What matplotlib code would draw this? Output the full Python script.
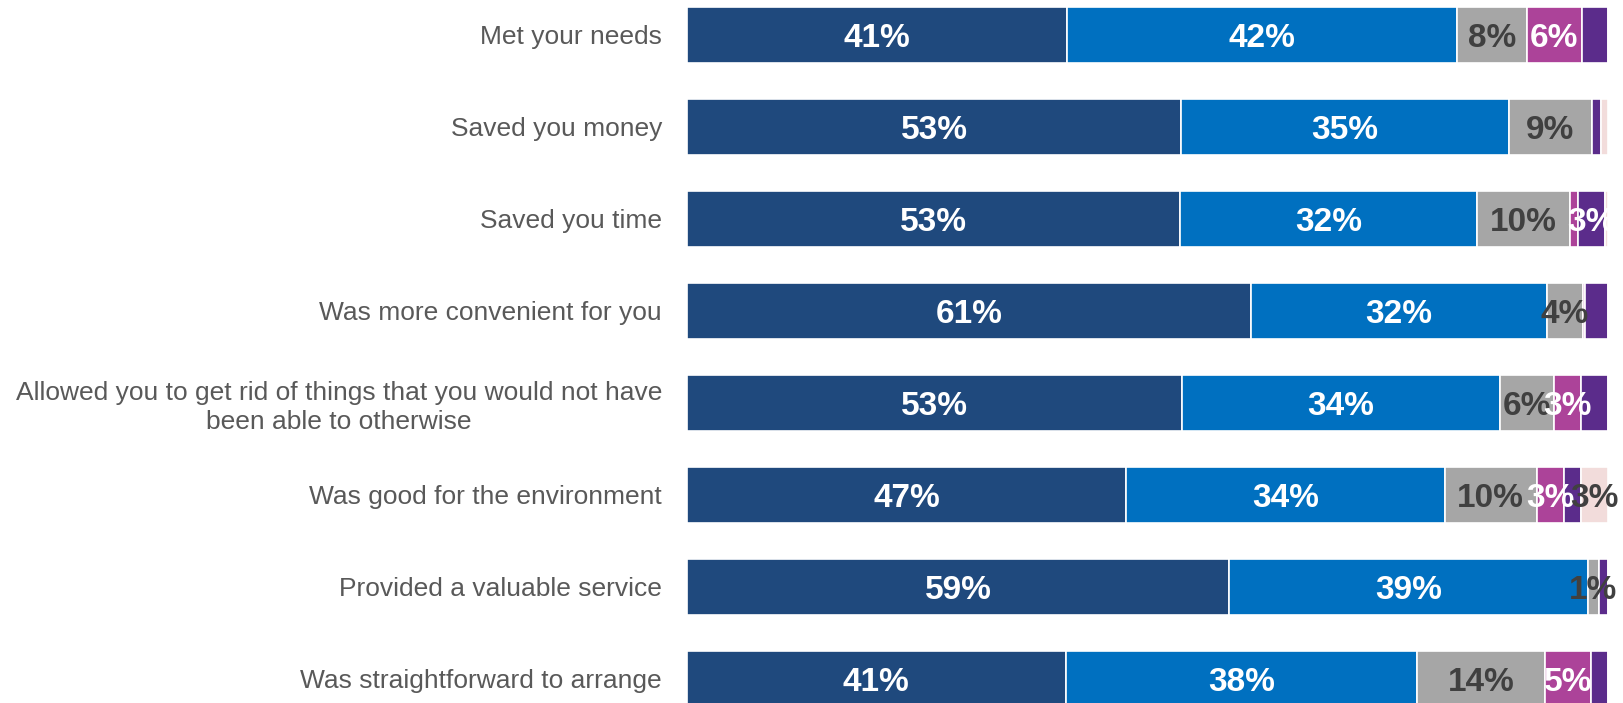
import numpy as np
import matplotlib
matplotlib.use("Agg")
import matplotlib.pyplot as plt

plt.rcParams['font.family'] = ['Liberation Sans', 'DejaVu Sans']

# statements, top to bottom
categories = ["Met your needs",
              "Saved you money",
              "Saved you time",
              "Was more convenient for you",
              "Allowed you to get rid of things that you would not have\nbeen able to otherwise",
              "Was good for the environment",
              "Provided a valuable service",
              "Was straightforward to arrange"]

# shares in %
strongly_agree    = [41.1, 53.3, 53.0, 60.8, 53.4, 47.3, 58.6, 41.0]
tend_to_agree     = [42.1, 35.3, 32.0, 31.9, 34.3, 34.3, 38.8, 38.0]
neither           = [7.5, 9.0, 10.0, 3.9, 5.9, 9.9, 1.2, 13.9]
tend_to_disagree  = [6.0, 0.0, 0.9, 0.2, 2.9, 3.0, 0.0, 5.0]
strongly_disagree = [2.8, 0.9, 2.9, 2.5, 2.9, 1.8, 1.0, 1.8]
dont_know         = [0.0, 0.8, 0.3, 0.0, 0.0, 2.9, 0.0, 0.0]

# labels as printed on the chart ('' = no label)
lab_sa = ["41%", "53%", "53%", "61%", "53%", "47%", "59%", "41%"]
lab_ta = ["42%", "35%", "32%", "32%", "34%", "34%", "39%", "38%"]
lab_ne = ["8%", "9%", "10%", "4%", "6%", "10%", "1%", "14%"]
lab_td = ["6%", "", "", "", "3%", "3%", "", "5%"]
lab_sd = ["", "", "3%", "", "", "", "", ""]
lab_dk = ["", "", "", "", "", "3%", "", ""]

series = [strongly_agree, tend_to_agree, neither, tend_to_disagree, strongly_disagree, dont_know]
labels = [lab_sa, lab_ta, lab_ne, lab_td, lab_sd, lab_dk]
colors = ['#1F497D', '#0070C0', '#A6A6A6', '#AC4399', '#5B2C8B', '#F2DCDB']
txt_colors = ['white', 'white', '#404040', 'white', 'white', '#404040']

data = np.array(series, dtype=float)
data = data / data.sum(axis=0) * 100   # 100% stacked

fig = plt.figure(figsize=(16.23, 7.03), dpi=100)
ax = fig.add_axes([687/1623, 0, 921/1623, 1])

y = np.arange(len(categories))
left = np.zeros(len(categories))
for vals, labs, col, tcol in zip(data, labels, colors, txt_colors):
    bars = ax.barh(y, vals, left=left, height=0.61, color=col,
                   edgecolor='white', linewidth=1.2)
    for b, lab in zip(bars, labs):
        if lab:
            ax.text(b.get_x() + b.get_width() / 2, b.get_y() + b.get_height() / 2, lab,
                    ha='center', va='center_baseline', color=tcol, fontsize=24,
                    fontweight='bold', clip_on=False)
    left += vals

ax.set_xlim(0, 100)
ax.set_ylim(7.261, -0.380)
ax.set_yticks(y)
ax.set_yticklabels(categories, fontsize=19, color='#595959', linespacing=1.25)
for t in ax.get_yticklabels():
    t.set_horizontalalignment('right')
    t.set_multialignment('center')
ax.tick_params(axis='y', length=0, pad=18)
ax.set_xticks([])
for s in ax.spines.values():
    s.set_visible(False)

fig.savefig("out.png", dpi=100)
